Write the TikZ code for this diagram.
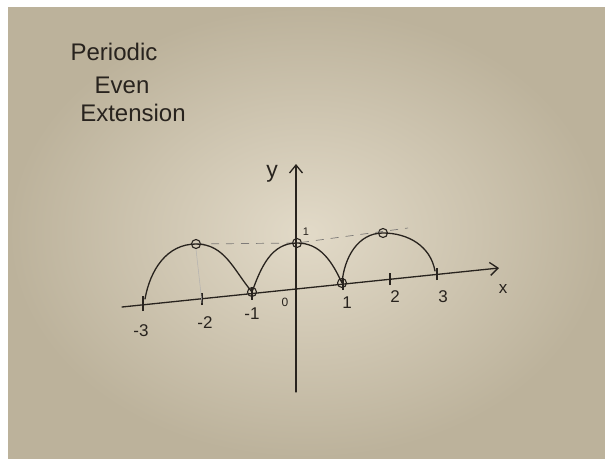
\documentclass[tikz,border=0pt]{standalone}
\usepackage{fontspec}
\setmainfont{Liberation Sans}
\usetikzlibrary{arrows.meta}
\definecolor{ink}{RGB}{40,35,30}
\definecolor{paperin}{RGB}{226,218,200}
\definecolor{paperout}{RGB}{188,178,155}
\tikzset{
  pen/.style={draw=ink, line width=1.3pt, line cap=round, line join=round},
  hole/.style={circle, draw=ink, line width=1.1pt, minimum size=9pt, inner sep=0pt},
  lbl/.style={text=ink, inner sep=0pt, font=\fontsize{17}{17}\selectfont},
  title/.style={text=ink, inner sep=0pt, font=\fontsize{24}{24}\selectfont},
  guide/.style={draw=ink!60, line width=0.7pt, dash pattern=on 8pt off 7pt},
  tick/.style={draw=ink, line width=1.2pt}
}
\begin{document}
\begin{tikzpicture}[x=1pt,y=-1pt]
\useasboundingbox (0,0) rectangle (605,458);
\fill[white] (0,0) rectangle (605,458);
\shade[inner color=paperin, outer color=paperout] (8,7) rectangle (605,458);

% title
\node[title] (t1) at (114,52) {Periodic};
\node[title] (t2) at (122,85) {Even};
\node[title] (t3) at (133,113) {Extension};

% axes
\coordinate (xs) at (122,307);
\coordinate (xe) at (499,268);
\coordinate (ys) at (296,392);
\coordinate (ye) at (296,164);
\draw[pen, -{Straight Barb[length=8pt,width=13pt]}] (xs) -- (xe);
\draw[pen, -{Straight Barb[length=8pt,width=13pt]}] (ys) -- (ye);
\node[text=ink, inner sep=0pt, font=\fontsize{23}{23}\selectfont] (ylab) at (272,174) {y};
\node[lbl] (xlab) at (503,289) {x};

% ticks
\coordinate (k3m) at (143,305);
\coordinate (k2m) at (202,299);
\coordinate (k1m) at (252,293.5);
\coordinate (k1) at (343,284);
\coordinate (k2) at (390,279);
\coordinate (k3) at (437,274);
\foreach \k in {k3m,k2m,k1m,k1,k2,k3}{
  \draw[tick] ([yshift=-6pt]\k) -- ([yshift=6pt]\k);
}
\draw[tick] ([yshift=-3pt]k3m) -- ([yshift=9pt]k3m);

% tick labels
\node[lbl] (l3m) at (141,331) {-3};
\node[lbl] (l2m) at (205,323) {-2};
\node[lbl] (l1m) at (252,314) {-1};
\node[lbl, font=\fontsize{12}{12}\selectfont] (l0) at (285,302) {0};
\node[lbl] (l1) at (347,303) {1};
\node[lbl] (l2) at (395,297) {2};
\node[lbl] (l3) at (443,297) {3};
\node[lbl, font=\fontsize{11}{11}\selectfont] (one) at (306,232) {1};

% key points
\coordinate (a0) at (145,299);
\node[hole] (p1) at (196,244) {};
\node[hole] (c1) at (252,292) {};
\node[hole] (p2) at (297,243) {};
\node[hole] (c2) at (342,283) {};
\node[hole] (p3) at (383,233) {};
\coordinate (a1) at (435,271);
\coordinate (dend) at (408,228);

% guide lines
\draw[guide] (p1.center) -- (p2.center) -- (dend);
\draw[draw=ink!35, line width=0.5pt] (p1.south) -- ([yshift=-4pt]k2m);

% arches
\draw[pen] (a0) to[out=80,in=180] (p1.center)
           to[out=0,in=130] (c1.center)
           to[out=70,in=180] (p2.center)
           to[out=0,in=115] (c2.center)
           to[out=85,in=180] (p3.center)
           to[out=0,in=100] (a1);
\end{tikzpicture}
\end{document}
